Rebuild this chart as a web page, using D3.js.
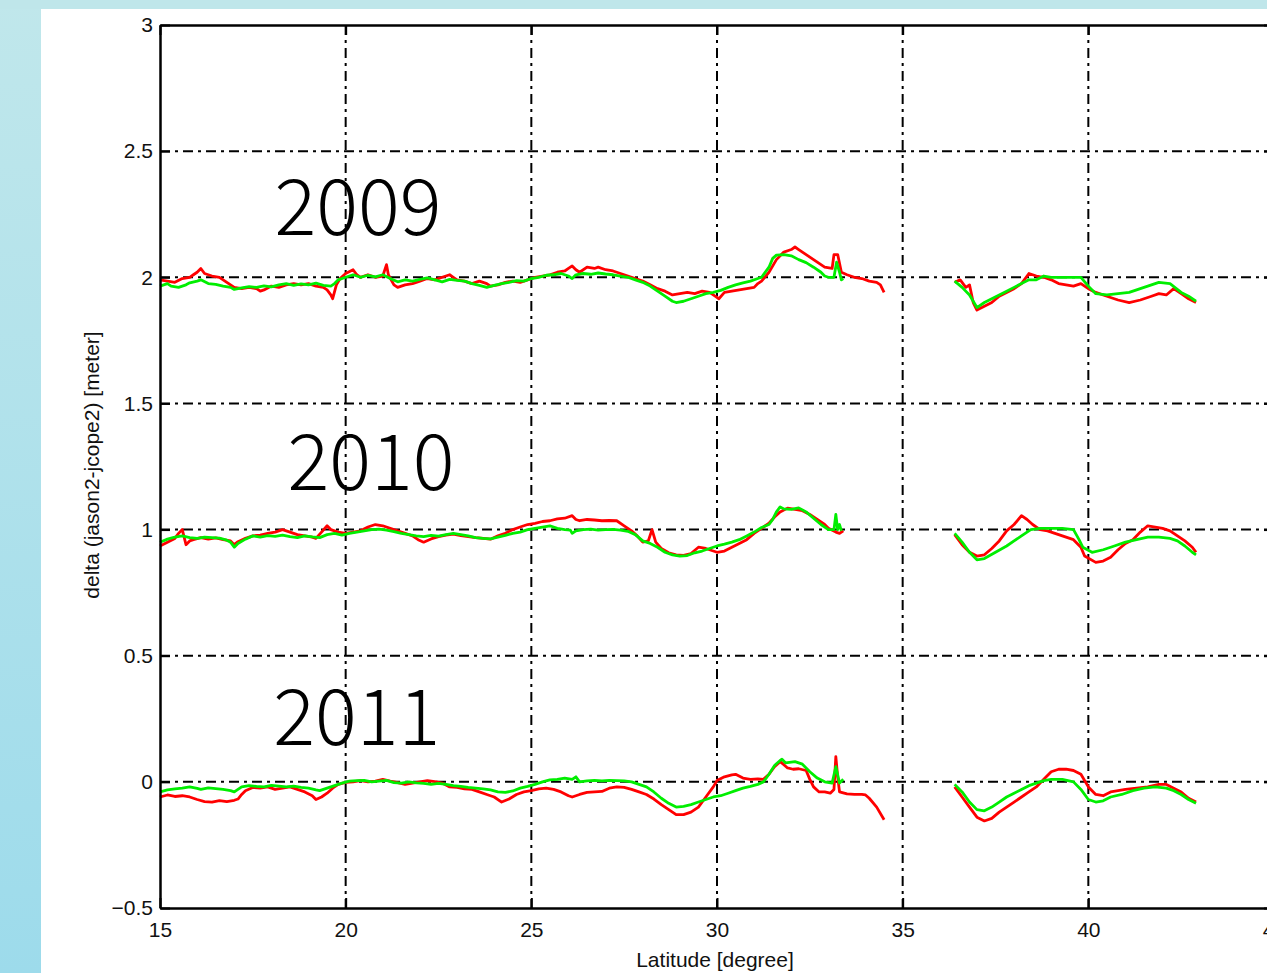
<!DOCTYPE html>
<html>
<head>
<meta charset="utf-8">
<script src="https://cdn.jsdelivr.net/npm/d3@7"></script>
<style>
  html, body { margin: 0; padding: 0; }
  body { width: 1267px; height: 973px; overflow: hidden; }
  svg { display: block; }
</style>
</head>
<body>
<svg id="chart" width="1267" height="973"></svg>
<script>
// Along-track difference jason2 - jcope2 by latitude, one offset band per year.
// Each year has a west segment (15°–34.5°) and an east segment (36.4°–43°).
const xTicks = [15, 20, 25, 30, 35, 40, 45];
const yTicks = [-0.5, 0, 0.5, 1, 1.5, 2, 2.5, 3];
const yTickLabels = ["\u22120.5", "0", "0.5", "1", "1.5", "2", "2.5", "3"];
const yearLabels = [
  { text: "2009", lat: 20.33, value: 2.168 },
  { text: "2010", lat: 20.68, value: 1.157 },
  { text: "2011", lat: 20.3, value: 0.146 }
];

// [latitude, delta] pairs
const red2009West = [[15.0,1.99],[15.2,1.985],[15.4,1.98],[15.6,1.995],[15.8,2.0],[15.9,2.01],[16.0,2.02],[16.1,2.035],[16.2,2.015],[16.4,2.005],[16.6,2.0],[16.8,1.98],[17.0,1.96],[17.2,1.955],[17.4,1.96],[17.6,1.955],[17.7,1.945],[17.8,1.95],[18.0,1.965],[18.2,1.96],[18.4,1.97],[18.6,1.975],[18.8,1.97],[19.0,1.975],[19.2,1.965],[19.4,1.96],[19.5,1.95],[19.6,1.93],[19.65,1.915],[19.75,1.97],[19.85,1.995],[20.0,2.015],[20.2,2.03],[20.3,2.01],[20.4,2.0],[20.6,2.01],[20.8,2.0],[21.0,2.005],[21.1,2.05],[21.15,2.01],[21.3,1.97],[21.4,1.96],[21.6,1.97],[21.8,1.975],[22.0,1.985],[22.2,1.995],[22.4,1.99],[22.6,2.0],[22.8,2.01],[22.9,2.0],[23.0,1.99],[23.2,1.985],[23.4,1.975],[23.6,1.985],[23.8,1.975],[23.9,1.965],[24.1,1.97],[24.3,1.98],[24.5,1.985],[24.7,1.98],[24.9,1.99],[25.1,2.0],[25.3,2.005],[25.5,2.01],[25.7,2.02],[25.9,2.025],[26.0,2.035],[26.1,2.045],[26.2,2.03],[26.3,2.02],[26.5,2.04],[26.7,2.035],[26.8,2.04],[27.0,2.03],[27.2,2.025],[27.4,2.015],[27.6,2.005],[27.8,1.995],[28.0,1.985],[28.2,1.97],[28.4,1.955],[28.6,1.945],[28.8,1.93],[29.0,1.935],[29.2,1.94],[29.4,1.935],[29.6,1.945],[29.8,1.94],[29.95,1.925],[30.05,1.915],[30.2,1.94],[30.4,1.945],[30.6,1.95],[30.8,1.955],[31.0,1.96],[31.1,1.975],[31.2,1.985],[31.4,2.02],[31.6,2.07],[31.8,2.1],[32.0,2.11],[32.1,2.12],[32.2,2.11],[32.3,2.1],[32.5,2.08],[32.7,2.06],[32.9,2.04],[33.1,2.035],[33.15,2.09],[33.25,2.09],[33.35,2.02],[33.5,2.01],[33.7,2.0],[33.9,1.995],[34.1,1.985],[34.3,1.98],[34.4,1.97],[34.5,1.94]];
const green2009West = [[15.0,1.965],[15.2,1.975],[15.3,1.965],[15.5,1.96],[15.7,1.97],[15.8,1.978],[16.0,1.985],[16.1,1.99],[16.3,1.975],[16.5,1.972],[16.7,1.965],[16.9,1.96],[17.0,1.952],[17.2,1.958],[17.4,1.963],[17.6,1.96],[17.8,1.966],[18.0,1.962],[18.2,1.97],[18.4,1.975],[18.6,1.968],[18.8,1.974],[19.0,1.97],[19.2,1.977],[19.4,1.968],[19.6,1.965],[19.7,1.975],[19.8,1.99],[20.0,2.0],[20.2,2.01],[20.4,2.0],[20.6,2.008],[20.8,2.002],[21.0,2.01],[21.2,1.995],[21.4,1.982],[21.6,1.99],[21.8,1.985],[22.0,1.992],[22.2,1.998],[22.4,1.99],[22.6,1.982],[22.8,1.992],[23.0,1.988],[23.2,1.985],[23.4,1.975],[23.6,1.968],[23.8,1.96],[24.0,1.968],[24.2,1.975],[24.4,1.98],[24.6,1.987],[24.8,1.985],[25.0,1.995],[25.2,2.0],[25.4,2.008],[25.6,2.01],[25.8,2.015],[26.0,2.005],[26.1,1.995],[26.2,2.01],[26.4,2.015],[26.6,2.012],[26.8,2.017],[27.0,2.013],[27.2,2.01],[27.4,2.005],[27.6,2.0],[27.8,1.99],[28.0,1.98],[28.2,1.965],[28.4,1.945],[28.6,1.925],[28.8,1.905],[28.9,1.9],[29.1,1.905],[29.3,1.915],[29.5,1.925],[29.7,1.935],[29.9,1.94],[30.1,1.948],[30.3,1.96],[30.5,1.97],[30.7,1.978],[30.9,1.985],[31.1,1.995],[31.2,2.0],[31.4,2.04],[31.5,2.075],[31.6,2.088],[31.8,2.09],[32.0,2.085],[32.2,2.07],[32.4,2.058],[32.6,2.04],[32.8,2.02],[32.9,2.005],[33.0,2.0],[33.15,2.0],[33.22,2.06],[33.3,2.02],[33.35,1.99],[33.4,1.995]];
const red2009East = [[36.4,1.98],[36.55,1.99],[36.7,1.96],[36.8,1.97],[36.9,1.9],[37.0,1.87],[37.2,1.885],[37.4,1.9],[37.6,1.925],[37.8,1.94],[38.0,1.955],[38.2,1.975],[38.4,2.015],[38.6,2.005],[38.8,2.0],[39.0,1.99],[39.2,1.975],[39.4,1.97],[39.6,1.965],[39.8,1.975],[40.0,1.955],[40.2,1.94],[40.5,1.925],[40.8,1.91],[41.1,1.9],[41.4,1.91],[41.7,1.925],[41.9,1.935],[42.1,1.93],[42.3,1.955],[42.5,1.935],[42.7,1.915],[42.9,1.9]];
const green2009East = [[36.4,1.985],[36.6,1.96],[36.8,1.93],[37.0,1.88],[37.2,1.9],[37.4,1.915],[37.6,1.93],[37.8,1.945],[38.0,1.96],[38.2,1.975],[38.4,1.99],[38.6,1.99],[38.8,2.005],[39.0,2.0],[39.3,2.0],[39.6,2.0],[39.8,2.0],[40.0,1.965],[40.2,1.935],[40.5,1.93],[40.8,1.935],[41.1,1.94],[41.4,1.955],[41.7,1.97],[41.9,1.98],[42.2,1.975],[42.5,1.94],[42.7,1.925],[42.9,1.905]];

const red2010West = [[15.0,0.935],[15.2,0.95],[15.4,0.965],[15.5,0.985],[15.6,1.0],[15.65,0.97],[15.7,0.94],[15.8,0.955],[15.9,0.96],[16.1,0.968],[16.3,0.962],[16.5,0.967],[16.7,0.96],[16.9,0.955],[17.0,0.94],[17.1,0.952],[17.3,0.965],[17.5,0.975],[17.7,0.978],[17.9,0.985],[18.1,0.99],[18.3,1.0],[18.5,0.99],[18.7,0.98],[18.9,0.975],[19.1,0.97],[19.2,0.965],[19.35,0.99],[19.5,1.015],[19.6,1.0],[19.8,0.99],[20.0,0.985],[20.2,0.99],[20.4,0.995],[20.6,1.01],[20.8,1.02],[21.0,1.015],[21.2,1.005],[21.4,0.995],[21.6,0.985],[21.8,0.975],[21.95,0.96],[22.1,0.95],[22.3,0.963],[22.5,0.972],[22.7,0.978],[22.9,0.982],[23.1,0.976],[23.3,0.972],[23.5,0.968],[23.7,0.965],[23.9,0.962],[24.1,0.975],[24.3,0.985],[24.5,1.0],[24.7,1.01],[24.9,1.02],[25.1,1.025],[25.3,1.032],[25.5,1.035],[25.7,1.042],[25.9,1.045],[26.1,1.055],[26.2,1.04],[26.3,1.035],[26.5,1.04],[26.7,1.038],[26.9,1.035],[27.1,1.036],[27.3,1.035],[27.5,1.015],[27.7,0.995],[27.85,0.975],[28.0,0.95],[28.15,0.955],[28.25,1.0],[28.35,0.95],[28.5,0.925],[28.7,0.908],[28.9,0.9],[29.1,0.898],[29.3,0.905],[29.5,0.93],[29.7,0.925],[29.9,0.915],[30.0,0.91],[30.2,0.915],[30.4,0.93],[30.6,0.945],[30.8,0.96],[31.0,0.985],[31.2,1.005],[31.4,1.025],[31.55,1.05],[31.7,1.07],[31.9,1.085],[32.1,1.08],[32.3,1.075],[32.5,1.06],[32.7,1.04],[32.9,1.02],[33.0,1.005],[33.2,0.99],[33.3,0.985],[33.4,0.995]];
const green2010West = [[15.0,0.95],[15.2,0.962],[15.4,0.97],[15.6,0.975],[15.8,0.968],[16.0,0.965],[16.2,0.97],[16.4,0.968],[16.6,0.966],[16.8,0.958],[16.9,0.95],[17.0,0.93],[17.1,0.945],[17.3,0.962],[17.5,0.975],[17.7,0.97],[17.9,0.976],[18.1,0.973],[18.3,0.978],[18.5,0.972],[18.7,0.968],[18.9,0.975],[19.1,0.971],[19.3,0.968],[19.5,0.98],[19.7,0.985],[19.9,0.978],[20.1,0.985],[20.3,0.99],[20.5,0.995],[20.7,1.0],[20.9,1.002],[21.1,0.998],[21.3,0.992],[21.5,0.985],[21.7,0.98],[21.9,0.975],[22.1,0.972],[22.3,0.977],[22.5,0.974],[22.7,0.98],[22.9,0.985],[23.1,0.98],[23.3,0.975],[23.5,0.968],[23.7,0.965],[23.9,0.963],[24.1,0.97],[24.3,0.977],[24.5,0.985],[24.7,0.99],[24.9,1.0],[25.1,1.005],[25.3,1.01],[25.5,1.015],[25.7,1.005],[25.9,1.0],[26.05,0.998],[26.1,0.985],[26.2,0.995],[26.4,1.0],[26.6,1.002],[26.8,0.998],[27.0,1.0],[27.2,1.001],[27.4,0.998],[27.6,0.993],[27.8,0.98],[28.0,0.955],[28.2,0.945],[28.4,0.93],[28.6,0.91],[28.8,0.9],[29.0,0.895],[29.2,0.897],[29.4,0.908],[29.6,0.915],[29.8,0.925],[30.0,0.935],[30.2,0.942],[30.4,0.95],[30.6,0.96],[30.8,0.975],[31.0,0.99],[31.2,1.008],[31.4,1.02],[31.5,1.04],[31.6,1.07],[31.7,1.09],[31.8,1.082],[32.0,1.08],[32.2,1.086],[32.4,1.07],[32.6,1.045],[32.8,1.02],[33.0,1.0],[33.15,1.0],[33.2,1.06],[33.25,1.0],[33.3,1.02],[33.35,0.995]];
const red2010East = [[36.4,0.98],[36.6,0.94],[36.8,0.91],[37.0,0.895],[37.2,0.9],[37.4,0.925],[37.6,0.955],[37.8,0.995],[38.0,1.02],[38.2,1.055],[38.35,1.04],[38.5,1.02],[38.7,1.0],[38.9,0.995],[39.1,0.985],[39.3,0.975],[39.6,0.96],[39.8,0.93],[39.9,0.895],[40.2,0.87],[40.4,0.875],[40.6,0.89],[40.8,0.92],[41.0,0.945],[41.2,0.96],[41.4,0.99],[41.6,1.015],[41.8,1.01],[42.0,1.005],[42.2,0.995],[42.4,0.975],[42.6,0.955],[42.8,0.93],[42.9,0.91]];
const green2010East = [[36.4,0.985],[36.6,0.95],[36.8,0.91],[37.0,0.88],[37.2,0.885],[37.5,0.91],[37.8,0.935],[38.0,0.955],[38.2,0.975],[38.45,1.0],[38.7,1.005],[39.0,1.005],[39.3,1.005],[39.6,1.0],[39.75,0.96],[39.85,0.93],[40.1,0.91],[40.4,0.92],[40.7,0.935],[41.0,0.95],[41.3,0.96],[41.6,0.97],[41.9,0.97],[42.2,0.965],[42.4,0.955],[42.6,0.935],[42.8,0.91],[42.9,0.9]];

const red2011West = [[15.0,-0.06],[15.2,-0.052],[15.4,-0.058],[15.6,-0.055],[15.8,-0.06],[16.0,-0.07],[16.2,-0.078],[16.4,-0.08],[16.6,-0.074],[16.8,-0.078],[17.0,-0.073],[17.1,-0.068],[17.2,-0.05],[17.3,-0.035],[17.5,-0.022],[17.7,-0.025],[17.9,-0.02],[18.1,-0.03],[18.3,-0.025],[18.5,-0.02],[18.7,-0.03],[18.9,-0.04],[19.1,-0.055],[19.2,-0.07],[19.35,-0.06],[19.5,-0.045],[19.65,-0.025],[19.8,-0.01],[20.0,-0.002],[20.2,0.0],[20.4,0.005],[20.6,0.0],[20.8,0.003],[21.0,0.01],[21.2,0.003],[21.4,-0.003],[21.6,-0.01],[21.8,-0.005],[22.0,0.0],[22.2,0.005],[22.4,0.001],[22.6,-0.005],[22.8,-0.02],[23.0,-0.022],[23.2,-0.028],[23.4,-0.03],[23.6,-0.04],[23.8,-0.05],[24.0,-0.06],[24.2,-0.08],[24.4,-0.068],[24.6,-0.05],[24.8,-0.04],[25.0,-0.035],[25.2,-0.028],[25.4,-0.025],[25.6,-0.03],[25.8,-0.04],[26.0,-0.055],[26.1,-0.06],[26.3,-0.05],[26.5,-0.042],[26.7,-0.04],[26.9,-0.038],[27.1,-0.025],[27.3,-0.02],[27.5,-0.022],[27.7,-0.03],[27.9,-0.04],[28.1,-0.05],[28.3,-0.068],[28.5,-0.09],[28.7,-0.11],[28.9,-0.13],[29.1,-0.13],[29.3,-0.12],[29.5,-0.1],[29.7,-0.06],[29.9,-0.02],[30.0,0.005],[30.2,0.02],[30.4,0.028],[30.5,0.03],[30.7,0.015],[30.9,0.01],[31.1,0.012],[31.25,0.01],[31.4,0.03],[31.55,0.06],[31.7,0.08],[31.8,0.068],[31.9,0.055],[32.05,0.05],[32.2,0.052],[32.4,0.045],[32.5,0.01],[32.6,-0.02],[32.75,-0.04],[32.9,-0.04],[33.05,-0.045],[33.15,-0.03],[33.2,0.1],[33.25,0.02],[33.3,-0.04],[33.5,-0.048],[33.7,-0.05],[33.9,-0.05],[34.0,-0.052],[34.1,-0.065],[34.3,-0.1],[34.5,-0.15]];
const green2011West = [[15.0,-0.04],[15.2,-0.032],[15.4,-0.028],[15.6,-0.025],[15.8,-0.02],[16.0,-0.026],[16.1,-0.03],[16.3,-0.024],[16.5,-0.027],[16.7,-0.03],[16.9,-0.035],[17.0,-0.04],[17.1,-0.03],[17.2,-0.02],[17.4,-0.015],[17.6,-0.018],[17.8,-0.02],[18.0,-0.014],[18.2,-0.017],[18.4,-0.02],[18.6,-0.017],[18.8,-0.022],[19.0,-0.025],[19.2,-0.032],[19.3,-0.035],[19.5,-0.025],[19.7,-0.015],[19.9,-0.005],[20.1,0.003],[20.3,0.005],[20.5,0.006],[20.7,0.0],[20.9,0.003],[21.1,0.006],[21.3,-0.003],[21.5,-0.005],[21.7,0.0],[21.9,-0.004],[22.1,-0.006],[22.3,-0.01],[22.5,-0.006],[22.7,-0.01],[22.9,-0.015],[23.1,-0.018],[23.3,-0.022],[23.5,-0.025],[23.7,-0.028],[23.9,-0.032],[24.1,-0.04],[24.3,-0.042],[24.5,-0.036],[24.7,-0.025],[24.9,-0.018],[25.1,-0.01],[25.3,0.0],[25.5,0.008],[25.7,0.01],[25.9,0.015],[26.1,0.01],[26.2,0.02],[26.3,0.0],[26.5,0.004],[26.7,0.006],[26.9,0.004],[27.1,0.006],[27.3,0.005],[27.5,0.004],[27.7,0.0],[27.9,-0.01],[28.1,-0.02],[28.3,-0.04],[28.5,-0.065],[28.7,-0.085],[28.9,-0.1],[29.1,-0.097],[29.3,-0.09],[29.5,-0.08],[29.7,-0.07],[29.9,-0.06],[30.1,-0.055],[30.3,-0.045],[30.5,-0.035],[30.7,-0.025],[30.9,-0.018],[31.1,-0.01],[31.25,0.0],[31.4,0.03],[31.55,0.065],[31.7,0.085],[31.75,0.09],[31.85,0.075],[32.0,0.078],[32.1,0.08],[32.3,0.07],[32.5,0.04],[32.7,0.015],[32.9,0.0],[33.1,-0.005],[33.2,0.06],[33.3,-0.005],[33.4,0.01]];
const red2011East = [[36.4,-0.02],[36.6,-0.06],[36.8,-0.1],[37.0,-0.14],[37.2,-0.155],[37.4,-0.145],[37.6,-0.12],[37.8,-0.1],[38.0,-0.08],[38.2,-0.06],[38.4,-0.04],[38.6,-0.02],[38.8,0.01],[39.0,0.04],[39.2,0.05],[39.4,0.05],[39.6,0.045],[39.8,0.03],[40.0,-0.02],[40.2,-0.05],[40.4,-0.055],[40.6,-0.04],[40.8,-0.035],[41.0,-0.03],[41.3,-0.025],[41.6,-0.02],[41.9,-0.01],[42.1,-0.01],[42.3,-0.025],[42.5,-0.04],[42.7,-0.065],[42.9,-0.08]];
const green2011East = [[36.4,-0.01],[36.6,-0.04],[36.8,-0.08],[37.0,-0.11],[37.2,-0.115],[37.4,-0.1],[37.6,-0.08],[37.8,-0.06],[38.0,-0.045],[38.2,-0.03],[38.4,-0.015],[38.6,-0.005],[38.8,0.005],[39.0,0.01],[39.3,0.01],[39.6,0.0],[39.8,-0.03],[40.0,-0.07],[40.2,-0.08],[40.4,-0.075],[40.6,-0.06],[40.9,-0.05],[41.2,-0.035],[41.5,-0.025],[41.8,-0.02],[42.1,-0.025],[42.3,-0.035],[42.5,-0.05],[42.7,-0.07],[42.9,-0.085]];

const redSeries = [red2009West, red2009East, red2010West, red2010East, red2011West, red2011East];
const greenSeries = [green2009West, green2009East, green2010West, green2010East, green2011West, green2011East];

const svg = d3.select("#chart");
const W = 1267, H = 973;

// slide background: light cyan band on top and a gradient strip on the left
const defs = svg.append("defs");
const grad = defs.append("linearGradient").attr("id", "sideGrad")
  .attr("x1", 0).attr("y1", 0).attr("x2", 0).attr("y2", 1);
grad.append("stop").attr("offset", "0%").attr("stop-color", "#c0e7eb");
grad.append("stop").attr("offset", "100%").attr("stop-color", "#9ddbeb");
svg.append("rect").attr("width", W).attr("height", H).attr("fill", "url(#sideGrad)");
svg.append("rect").attr("x", 0).attr("y", 0).attr("width", W).attr("height", 9).attr("fill", "#bfe6ea");
svg.append("rect").attr("x", 41).attr("y", 9).attr("width", W - 41).attr("height", H - 9).attr("fill", "#ffffff");

const x = d3.scaleLinear().domain([15, 45]).range([160, 1274]);
const y = d3.scaleLinear().domain([-0.5, 3]).range([908, 25]);

const font = "'Liberation Sans', Arial, sans-serif";

// dash-dot grid
const grid = svg.append("g").attr("stroke", "#000").attr("stroke-width", 2)
  .attr("stroke-dasharray", "10,5,3,5").attr("fill", "none");
grid.selectAll("line.gx").data(xTicks.slice(1, -1)).join("line").attr("class", "gx")
  .attr("x1", d => x(d)).attr("x2", d => x(d)).attr("y1", y(3)).attr("y2", y(-0.5));
grid.selectAll("line.gy").data(yTicks.slice(1, -1)).join("line").attr("class", "gy")
  .attr("x1", x(15)).attr("x2", x(45)).attr("y1", d => y(d)).attr("y2", d => y(d));

// data lines
const line = d3.line().x(d => x(d[0])).y(d => y(d[1]));
const lines = svg.append("g").attr("fill", "none").attr("stroke-width", 2.8)
  .attr("stroke-linejoin", "round");
lines.selectAll("path.red").data(redSeries).join("path").attr("class", "red")
  .attr("stroke", "#ff0000").attr("d", line);
lines.selectAll("path.green").data(greenSeries).join("path").attr("class", "green")
  .attr("stroke", "#00ee00").attr("d", line);

// axes: ticks point inward, box on all sides
const tickLen = 10;
const axisBottom = d3.axisBottom(x).tickValues(xTicks).tickSize(-tickLen).tickSizeOuter(0).tickPadding(14).tickFormat(d3.format("d"));
const axisTop = d3.axisTop(x).tickValues(xTicks).tickSize(-tickLen).tickSizeOuter(0).tickFormat("");
const axisLeft = d3.axisLeft(y).tickValues(yTicks).tickSize(-tickLen).tickSizeOuter(0).tickPadding(7)
  .tickFormat((d, i) => yTickLabels[i]);
const axisRight = d3.axisRight(y).tickValues(yTicks).tickSize(-tickLen).tickSizeOuter(0).tickFormat("");

function styleAxis(g) {
  g.select(".domain").attr("stroke", "#000").attr("stroke-width", 2.5);
  g.selectAll(".tick line").attr("stroke", "#000").attr("stroke-width", 2);
  g.selectAll(".tick text").attr("fill", "#111").style("font-family", font)
    .style("font-size", "21px");
}
svg.append("g").attr("transform", `translate(0,${y(-0.5)})`).call(axisBottom).call(styleAxis);
svg.append("g").attr("transform", `translate(0,${y(3)})`).call(axisTop).call(styleAxis);
svg.append("g").attr("transform", `translate(${x(15)},0)`).call(axisLeft).call(styleAxis);
svg.append("g").attr("transform", `translate(${x(45)},0)`).call(axisRight).call(styleAxis);

// axis titles
svg.append("text").attr("x", 715).attr("y", 967).attr("text-anchor", "middle")
  .style("font-family", font).style("font-size", "21px").attr("fill", "#111")
  .text("Latitude [degree]");
svg.append("text").attr("transform", `translate(99,465) rotate(-90)`).attr("text-anchor", "middle")
  .style("font-family", font).style("font-size", "21px").attr("fill", "#111")
  .text("delta (jason2-jcope2) [meter]");

// year annotations
svg.append("g").selectAll("text").data(yearLabels).join("text")
  .attr("x", d => x(d.lat)).attr("y", d => y(d.value)).attr("text-anchor", "middle")
  .style("font-family", "'Noto Sans CJK KR', 'Noto Sans', sans-serif")
  .style("font-weight", 300).style("font-size", "78px").attr("fill", "#000")
  .text(d => d.text);
</script>
</body>
</html>
